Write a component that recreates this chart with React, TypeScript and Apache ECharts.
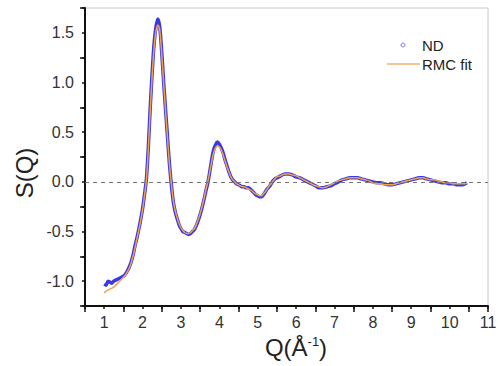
import React, { useEffect, useRef } from 'react';
import * as echarts from 'echarts';

const qValues = [
  1.00, 1.05, 1.10, 1.15, 1.20, 1.25, 1.30, 1.35, 1.40, 1.45,
  1.50, 1.55, 1.60, 1.65, 1.70, 1.75, 1.80, 1.85, 1.90, 1.95,
  2.00, 2.05, 2.10, 2.15, 2.20, 2.25, 2.30, 2.35, 2.40, 2.45,
  2.50, 2.55, 2.60, 2.65, 2.70, 2.75, 2.80, 2.85, 2.90, 2.95,
  3.00, 3.05, 3.10, 3.15, 3.20, 3.25, 3.30, 3.35, 3.40, 3.45,
  3.50, 3.55, 3.60, 3.65, 3.70, 3.75, 3.80, 3.85, 3.90, 3.95,
  4.00, 4.05, 4.10, 4.15, 4.20, 4.25, 4.30, 4.35, 4.40, 4.45,
  4.50, 4.55, 4.60, 4.65, 4.70, 4.75, 4.80, 4.85, 4.90, 4.95,
  5.00, 5.05, 5.10, 5.15, 5.20, 5.25, 5.30, 5.35, 5.40, 5.45,
  5.50,
  5.6, 5.7, 5.8, 5.9, 6.0, 6.1, 6.2, 6.3, 6.4, 6.5,
  6.6, 6.7, 6.8, 6.9, 7.0, 7.1, 7.2, 7.3, 7.4, 7.5,
  7.6, 7.7, 7.8, 7.9, 8.0, 8.1, 8.2, 8.3, 8.4, 8.5,
  8.6, 8.7, 8.8, 8.9, 9.0, 9.1, 9.2, 9.3, 9.4, 9.5,
  9.6, 9.7, 9.8, 9.9, 10.0, 10.1, 10.2, 10.3, 10.4, 10.45,
];

const ndValues = [
  -1.03, -1.04, -1.00, -1.01, -1.02, -1.00, -0.99, -0.98, -0.97, -0.96,
  -0.95, -0.93, -0.90, -0.86, -0.81, -0.74, -0.65, -0.57, -0.48, -0.38,
  -0.27, -0.13, 0.03, 0.35, 0.75, 1.10, 1.39, 1.56, 1.64, 1.55,
  1.30, 1.00, 0.72, 0.45, 0.18, -0.03, -0.20, -0.30, -0.37, -0.43,
  -0.47, -0.50, -0.51, -0.52, -0.53, -0.52, -0.50, -0.48, -0.44, -0.39,
  -0.33, -0.26, -0.18, -0.09, -0.01, 0.10, 0.22, 0.32, 0.37, 0.40,
  0.38, 0.34, 0.29, 0.22, 0.16, 0.10, 0.05, 0.02, 0.00, -0.02,
  -0.03, -0.04, -0.05, -0.05, -0.06, -0.06, -0.07, -0.09, -0.11, -0.13,
  -0.14, -0.15, -0.15, -0.13, -0.10, -0.07, -0.05, -0.02, 0.01, 0.03,
  0.04,
  0.06, 0.08, 0.08, 0.07, 0.05, 0.04, 0.02, 0.00, -0.02, -0.04,
  -0.06, -0.06, -0.05, -0.04, -0.02, 0.00, 0.02, 0.03, 0.04, 0.04,
  0.04, 0.03, 0.02, 0.01, 0.00, -0.01, -0.01, -0.02, -0.03, -0.03,
  -0.02, -0.01, 0.00, 0.01, 0.02, 0.03, 0.04, 0.04, 0.03, 0.02,
  0.01, 0.00, -0.01, -0.01, -0.02, -0.02, -0.03, -0.03, -0.02, -0.01,
];

const fitValues = [
  -1.12, -1.10, -1.09, -1.08, -1.07, -1.06, -1.04, -1.02, -1.00, -0.98,
  -0.96, -0.94, -0.91, -0.87, -0.82, -0.75, -0.67, -0.58, -0.49, -0.39,
  -0.28, -0.14, 0.02, 0.33, 0.72, 1.07, 1.35, 1.52, 1.58, 1.52,
  1.28, 0.99, 0.71, 0.44, 0.18, -0.02, -0.19, -0.29, -0.36, -0.42,
  -0.46, -0.49, -0.51, -0.52, -0.52, -0.51, -0.49, -0.47, -0.43, -0.38,
  -0.32, -0.25, -0.17, -0.08, 0.00, 0.10, 0.20, 0.29, 0.34, 0.36,
  0.35, 0.32, 0.27, 0.21, 0.15, 0.10, 0.05, 0.02, 0.00, -0.02,
  -0.03, -0.04, -0.05, -0.05, -0.06, -0.07, -0.08, -0.09, -0.11, -0.12,
  -0.13, -0.14, -0.14, -0.12, -0.10, -0.07, -0.04, -0.02, 0.01, 0.03,
  0.05,
  0.06, 0.08, 0.08, 0.07, 0.06, 0.04, 0.02, 0.00, -0.02, -0.04,
  -0.05, -0.06, -0.05, -0.03, -0.01, 0.01, 0.02, 0.03, 0.04, 0.04,
  0.04, 0.03, 0.02, 0.01, -0.01, -0.02, -0.02, -0.03, -0.03, -0.03,
  -0.02, -0.01, 0.00, 0.01, 0.02, 0.03, 0.04, 0.04, 0.03, 0.02,
  0.02, 0.01, 0.00, -0.01, -0.01, -0.02, -0.02, -0.02, -0.02, -0.01,
];

const seriesNames = ['ND', 'RMC fit'];
const xTitle = { base: 'Q(Å', sup: '-1', close: ')' };
const yTitle = 'S(Q)';

const FONT = "'Liberation Sans', Arial, sans-serif";

export default function App() {
  const ref = useRef<HTMLDivElement>(null);

  useEffect(() => {
    if (!ref.current) return;
    const chart = echarts.init(ref.current, null, { renderer: 'svg' });

    const ndData = qValues.map((q, i) => [q, ndValues[i]]);
    const fitData = qValues.map((q, i) => [q, fitValues[i]]);

    const isMultiple = (v: number, step: number) =>
      Math.abs(v / step - Math.round(v / step)) < 1e-6;

    const option: any = {
      animation: false,
      backgroundColor: '#ffffff',
      grid: {
        left: 85,
        right: 10,
        top: 8,
        bottom: 60,
        show: true,
        borderColor: '#c8c8c8',
        borderWidth: 1,
        outerBoundsMode: 'none',
      },
      xAxis: [
        {
          type: 'value',
          min: 0.5,
          max: 11,
          interval: 0.5,
          position: 'bottom',
          axisLine: { show: true, onZero: false, lineStyle: { color: '#111', width: 2 } },
          axisTick: { show: true, inside: false, length: 3, lineStyle: { color: '#111', width: 1.5 } },
          axisLabel: {
            show: true,
            margin: 8,
            fontSize: 16,
            color: '#333',
            fontFamily: FONT,
            showMinLabel: true,
            showMaxLabel: true,
            formatter: (v: number) => (isMultiple(v, 1) ? String(Math.round(v)) : ''),
          },
          splitLine: { show: false },
        },
        {
          type: 'value',
          min: 0.5,
          max: 11,
          interval: 1,
          position: 'bottom',
          axisLine: { show: false, onZero: false },
          axisTick: { show: true, inside: false, length: 6, lineStyle: { color: '#111', width: 1.5 } },
          axisLabel: { show: false },
          splitLine: { show: false },
        },
      ],
      yAxis: [
        {
          type: 'value',
          min: -1.25,
          max: 1.75,
          interval: 0.25,
          position: 'left',
          axisLine: { show: true, onZero: false, lineStyle: { color: '#111', width: 2 } },
          axisTick: { show: true, inside: false, length: 3, lineStyle: { color: '#111', width: 1.5 } },
          axisLabel: {
            show: true,
            margin: 11,
            fontSize: 16,
            color: '#333',
            fontFamily: FONT,
            formatter: (v: number) => (isMultiple(v, 0.5) ? v.toFixed(1) : ''),
          },
          splitLine: { show: false },
        },
        {
          type: 'value',
          min: -1.25,
          max: 1.75,
          interval: 0.5,
          position: 'left',
          offset: 0,
          axisLine: { show: false, onZero: false },
          axisTick: { show: true, inside: false, length: 5, lineStyle: { color: '#111', width: 1.5 } },
          axisLabel: { show: false },
          splitLine: { show: false },
        },
      ],
      series: [
        {
          name: seriesNames[0],
          type: 'line',
          xAxisIndex: 0,
          yAxisIndex: 0,
          data: ndData,
          smooth: 0.3,
          showSymbol: false,
          symbol: 'none',
          lineStyle: { color: '#1818e0', width: 3.5, opacity: 0.85 },
          itemStyle: { color: '#1818e0' },
          z: 2,
          markLine: {
            silent: true,
            symbol: 'none',
            label: { show: false },
            lineStyle: { color: '#777', type: [4, 4], width: 1 },
            data: [{ yAxis: 0 }],
          },
        },
        {
          name: seriesNames[1],
          type: 'line',
          xAxisIndex: 0,
          yAxisIndex: 0,
          data: fitData,
          smooth: 0.3,
          showSymbol: false,
          symbol: 'none',
          lineStyle: { color: '#f0a050', width: 1.5 },
          itemStyle: { color: '#f0a050' },
          z: 3,
        },
      ],
      graphic: [
        {
          type: 'text',
          x: 24,
          y: 173,
          rotation: Math.PI / 2,
          style: {
            text: yTitle,
            fontSize: 24,
            fontFamily: FONT,
            fill: '#222',
            align: 'center',
            verticalAlign: 'middle',
          },
        },
        {
          type: 'text',
          x: 296,
          y: 347,
          style: {
            text: `{a|${xTitle.base}}{b|${xTitle.sup}}{a|${xTitle.close}}`,
            fontSize: 24,
            fontFamily: FONT,
            fill: '#222',
            align: 'center',
            verticalAlign: 'middle',
            rich: {
              a: { fontSize: 24, fontFamily: FONT, fill: '#222' },
              b: { fontSize: 13, fontFamily: FONT, fill: '#222', verticalAlign: 'top' },
            },
          },
        },
        {
          type: 'circle',
          shape: { cx: 403, cy: 45, r: 2 },
          style: { fill: 'none', stroke: '#7a7aff', lineWidth: 1 },
        },
        {
          type: 'text',
          x: 422,
          y: 45,
          style: {
            text: seriesNames[0],
            fontSize: 15,
            fontFamily: FONT,
            fill: '#222',
            align: 'left',
            verticalAlign: 'middle',
          },
        },
        {
          type: 'line',
          shape: { x1: 387, y1: 64, x2: 420, y2: 64 },
          style: { stroke: '#f0b070', lineWidth: 1.5 },
        },
        {
          type: 'text',
          x: 422,
          y: 64,
          style: {
            text: seriesNames[1],
            fontSize: 15,
            fontFamily: FONT,
            fill: '#222',
            align: 'left',
            verticalAlign: 'middle',
          },
        },
      ],
    };

    chart.setOption(option);
    return () => chart.dispose();
  }, []);

  return (
    <div
      ref={ref}
      style={{ position: 'fixed', left: 0, top: 0, width: 498, height: 366, background: '#fff' }}
    />
  );
}
